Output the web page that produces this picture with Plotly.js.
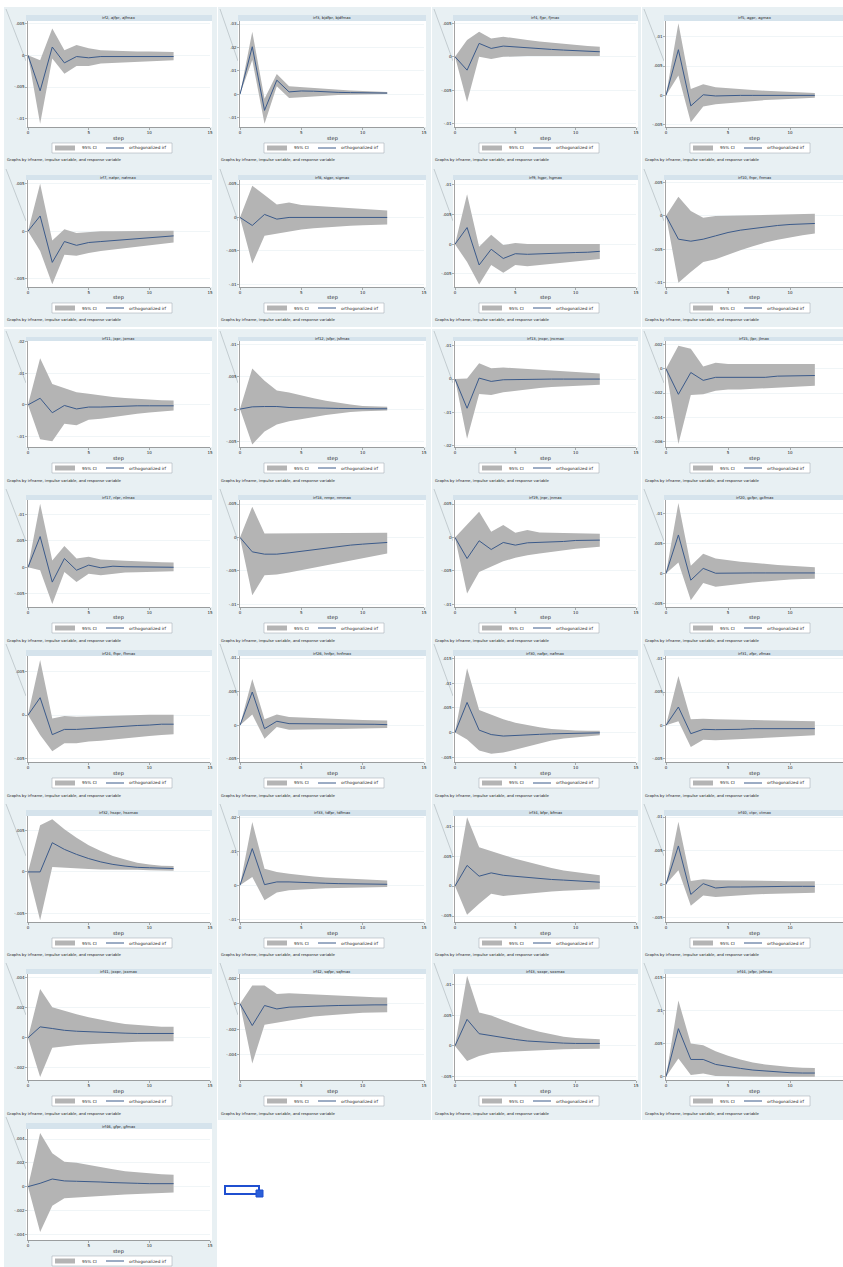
<!DOCTYPE html>
<html><head><meta charset="utf-8">
<script src="https://cdn.plot.ly/plotly-3.0.1.min.js"></script>
<style>html,body{margin:0;padding:0;background:#fff}#chart{width:843px;height:1267px}</style>
</head><body><div id="chart"></div>
<script>
// ---------------- DATA (values in thousandths of the response unit) ----------------
const steps = [0,1,2,3,4,5,6,7,8,9,10,11,12];
const xTicks = [0,5,10,15];
const titles = [
 "irf2, ajfpr, ajfmax","irf3, bjdfpr, bjdfmax","irf4, fjpr, fjmax","irf5, agpr, agmax",
 "irf7, natpr, natmax","irf8, sigpr, sigmax","irf9, hgpr, hgmax","irf10, fnpr, fnmax",
 "irf11, jxpr, jxmax","irf12, jsfpr, jsfmax","irf13, jncpr, jncmax","irf15, jlpr, jlmax",
 "irf17, nlpr, nlmax","irf18, nmpr, nmmax","irf19, jnpr, jnmax","irf20, gcfpr, gcfmax",
 "irf24, fhpr, fhmax","irf26, hnfpr, hnfmax","irf30, nafpr, nafmax","irf31, zfpr, zfmax",
 "irf32, hsxpr, hsxmax","irf33, tdfpr, tdfmax","irf34, bfpr, bfmax","irf40, ctpr, ctmax",
 "irf41, jxxpr, jxxmax","irf42, sqfpr, sqfmax","irf43, sxxpr, sxxmax","irf44, jxfpr, jxfmax",
 "irf46, gfpr, gfmax"
];
const irfVals = [
 [0,-5.6,1.3,-1.2,-0.2,-0.4,-0.2,-0.2,-0.2,-0.2,-0.2,-0.2,-0.2],
 [0,20.3,-6.9,6.0,1.0,1.4,1.3,0.9,0.8,0.7,0.6,0.6,0.5],
 [0,-2.0,2.0,1.25,1.6,1.45,1.35,1.25,1.1,1.0,0.9,0.85,0.75],
 [0,7.8,-1.8,0.1,-0.1,0,0,0,0,0,0,0,0],
 [0,1.6,-3.3,-1.1,-1.5,-1.2,-1.1,-1.0,-0.9,-0.85,-0.7,-0.6,-0.5],
 [0,-1.2,0.45,-0.25,0,0,0,0,0,0,0,0,0],
 [0,2.8,-3.5,-0.85,-2.4,-1.6,-1.7,-1.6,-1.55,-1.5,-1.4,-1.35,-1.2],
 [0,-3.5,-3.8,-3.5,-3.0,-2.5,-2.15,-1.9,-1.65,-1.45,-1.3,-1.2,-1.15],
 [0,2.1,-2.5,-0.2,-1.3,-0.7,-0.7,-0.5,-0.4,-0.3,-0.3,-0.3,-0.3],
 [0,0.35,0.4,0.4,0.25,0.25,0.25,0.15,0.1,0.05,0.05,0.05,0.05],
 [0,-8.8,0.3,-0.7,-0.2,-0.1,-0.1,-0.1,0,0,0,0,0],
 [0,-2.1,-0.3,-0.95,-0.7,-0.7,-0.7,-0.7,-0.7,-0.6,-0.6,-0.6,-0.55],
 [0,5.8,-2.8,1.65,-0.55,0.4,-0.1,0.2,0.1,0.05,0.05,0.05,0],
 [0,-2.15,-2.5,-2.5,-2.3,-2.05,-1.8,-1.55,-1.35,-1.15,-1.0,-0.9,-0.75],
 [0,-3.15,-0.5,-1.8,-0.75,-1.15,-0.8,-0.75,-0.65,-0.6,-0.45,-0.4,-0.4],
 [0,6.4,-1.1,0.85,0.05,0.1,0.1,0.1,0.1,0.1,0.1,0.1,0.1],
 [0,2.0,-2.25,-1.65,-1.65,-1.55,-1.45,-1.4,-1.3,-1.2,-1.15,-1.05,-1.05],
 [0,4.95,-0.5,0.6,0.25,0.25,0.25,0.2,0.2,0.2,0.15,0.15,0.1],
 [0,6.1,0.5,-0.4,-0.7,-0.55,-0.4,-0.35,-0.25,-0.2,-0.15,-0.15,-0.05],
 [0,2.75,-1.25,-0.6,-0.65,-0.65,-0.6,-0.5,-0.5,-0.5,-0.5,-0.5,-0.5],
 [0,0,3.5,2.7,2.1,1.6,1.2,0.9,0.7,0.55,0.5,0.45,0.4],
 [0,10.8,0.2,1.0,1.0,0.8,0.7,0.6,0.5,0.5,0.4,0.4,0.3],
 [0,3.45,1.65,2.2,1.8,1.6,1.45,1.3,1.1,1.0,0.9,0.8,0.65],
 [0,5.7,-1.5,0.1,-0.55,-0.4,-0.4,-0.35,-0.3,-0.3,-0.3,-0.3,-0.3],
 [0,0.73,0.62,0.5,0.44,0.4,0.35,0.33,0.31,0.29,0.29,0.29,0.29],
 [0,-1.7,-0.13,-0.4,-0.26,-0.21,-0.18,-0.16,-0.13,-0.1,-0.08,-0.08,-0.08],
 [0,4.35,2.0,1.65,1.3,1.05,0.8,0.65,0.55,0.45,0.4,0.4,0.4],
 [0,7.25,2.6,2.6,1.85,1.5,1.25,1.0,0.85,0.7,0.6,0.55,0.55],
 [0,0.28,0.64,0.48,0.45,0.45,0.39,0.34,0.34,0.28,0.25,0.25,0.25]
];
const ciHigh = [
 [0,-0.8,4.2,0.8,1.6,1.1,0.8,0.7,0.7,0.6,0.6,0.5,0.5],
 [0,26.7,-1.9,8.6,3.4,3.0,2.6,2.2,1.9,1.6,1.4,1.2,1.0],
 [0,2.5,3.75,2.75,3.0,2.7,2.5,2.3,2.1,1.9,1.7,1.6,1.5],
 [0,12.3,1.1,1.9,1.4,1.2,1.1,0.9,0.8,0.7,0.6,0.5,0.4],
 [0,5.0,-1.0,0.2,-0.2,-0.1,0,0,0,0.05,0.05,0.05,0.05],
 [0,4.75,3.35,1.95,2.25,1.85,1.75,1.65,1.5,1.35,1.25,1.15,1.05],
 [0,8.4,-0.45,1.6,-0.15,0.2,0.05,0.05,0.05,0.05,0.05,0.05,0.05],
 [0,2.85,0.7,-0.3,-0.05,0,0.1,0.15,0.2,0.25,0.3,0.3,0.3],
 [0,14.8,6.6,5.3,4.0,3.5,2.9,2.5,2.2,1.9,1.7,1.5,1.4],
 [0,6.3,4.4,2.9,2.6,2.1,1.7,1.3,0.95,0.7,0.5,0.4,0.35],
 [0,0.2,4.8,3.3,3.5,3.3,3.1,2.9,2.7,2.5,2.3,2.0,1.7],
 [0,1.9,1.65,0.2,0.5,0.4,0.4,0.4,0.4,0.4,0.4,0.4,0.4],
 [0,12.0,1.3,4.0,1.65,2.0,1.45,1.4,1.25,1.15,1.0,0.95,0.9],
 [0,4.6,0.6,0.6,0.65,0.65,0.7,0.7,0.7,0.7,0.7,0.7,0.7],
 [0,1.85,3.85,0.85,1.85,0.7,1.1,0.75,0.7,0.65,0.65,0.6,0.55],
 [0,11.7,1.3,3.3,2.5,2.2,1.95,1.8,1.55,1.4,1.3,1.15,1.05],
 [0,6.35,-0.4,-0.1,-0.2,-0.15,-0.1,-0.1,-0.05,0,0.05,0.05,0.05],
 [0,6.9,0.9,1.6,1.25,1.15,1.05,0.95,0.9,0.85,0.8,0.75,0.7],
 [0,13.0,4.55,3.65,2.7,2.0,1.5,1.1,0.75,0.55,0.4,0.35,0.35],
 [0,7.4,0.9,1.0,0.9,0.85,0.8,0.75,0.7,0.7,0.65,0.65,0.6],
 [0,5.6,6.3,5.1,4.1,3.2,2.5,1.9,1.5,1.1,0.9,0.75,0.7],
 [0,18.6,4.9,3.9,3.4,2.9,2.6,2.3,2.1,1.95,1.75,1.55,1.45],
 [0,11.5,6.5,5.9,5.2,4.55,4.0,3.45,3.0,2.6,2.3,2.0,1.8],
 [0,9.3,0.5,0.75,0.6,0.6,0.55,0.55,0.5,0.5,0.45,0.45,0.45],
 [0,3.25,2.04,1.78,1.56,1.36,1.19,1.05,0.92,0.84,0.77,0.73,0.73],
 [0,1.43,1.43,0.78,0.83,0.78,0.73,0.68,0.62,0.6,0.55,0.52,0.49],
 [0,11.5,5.5,5.0,4.2,3.5,2.85,2.3,1.85,1.5,1.3,1.2,1.1],
 [0,11.5,5.0,4.75,3.85,3.15,2.6,2.15,1.85,1.6,1.45,1.35,1.3],
 [0,4.5,2.8,2.1,2.0,1.8,1.6,1.45,1.3,1.2,1.1,1.05,1.0]
];
const ciLow = [
 [0,-10.8,-0.5,-2.9,-1.7,-1.7,-1.3,-1.2,-1.1,-1.0,-0.9,-0.9,-0.8],
 [0,14.6,-12.6,3.4,-1.6,-1.2,-0.8,-0.5,-0.3,-0.2,-0.1,0,0.1],
 [0,-6.75,0,-0.35,0,0.1,0.1,0.1,0.1,0.1,0.1,0.1,0.1],
 [0,3.4,-4.6,-1.9,-1.5,-1.3,-1.1,-0.9,-0.8,-0.7,-0.6,-0.5,-0.4],
 [0,-2.1,-5.6,-2.5,-2.6,-2.3,-2.1,-1.95,-1.8,-1.65,-1.5,-1.35,-1.2],
 [0,-6.9,-2.75,-2.4,-2.05,-1.8,-1.6,-1.45,-1.35,-1.25,-1.15,-1.1,-1.05],
 [0,-3.0,-6.8,-3.5,-4.8,-3.5,-3.7,-3.5,-3.3,-3.1,-2.9,-2.7,-2.5],
 [0,-10.0,-8.4,-6.9,-6.5,-5.8,-5.15,-4.55,-4.0,-3.6,-3.2,-2.9,-2.65],
 [0,-10.9,-11.6,-6.0,-6.5,-4.7,-4.4,-3.8,-3.3,-2.8,-2.4,-2.1,-1.8],
 [0,-5.5,-3.5,-2.4,-1.9,-1.55,-1.15,-0.9,-0.7,-0.45,-0.35,-0.25,-0.2],
 [0,-18.0,-4.5,-4.8,-4.0,-3.5,-3.1,-2.7,-2.4,-2.2,-2.0,-1.8,-1.7],
 [0,-6.2,-2.15,-2.1,-1.8,-1.7,-1.7,-1.65,-1.6,-1.55,-1.5,-1.45,-1.4],
 [0,-0.55,-6.95,-0.9,-2.8,-1.2,-1.5,-1.2,-1.0,-0.95,-0.9,-0.8,-0.75],
 [0,-8.65,-5.65,-5.55,-5.25,-4.9,-4.5,-4.15,-3.75,-3.4,-3.05,-2.75,-2.4],
 [0,-8.4,-5.15,-4.4,-3.55,-3.05,-2.65,-2.4,-2.15,-1.9,-1.7,-1.55,-1.4],
 [0,1.85,-4.45,-1.55,-2.2,-1.95,-1.65,-1.5,-1.3,-1.1,-1.0,-0.9,-0.85],
 [0,-2.3,-4.15,-3.25,-3.25,-3.05,-2.95,-2.8,-2.7,-2.55,-2.4,-2.3,-2.2],
 [0,1.6,-2.0,-0.25,-0.65,-0.65,-0.6,-0.6,-0.55,-0.5,-0.5,-0.45,-0.4],
 [0,-1.4,-3.6,-4.3,-4.05,-3.45,-2.75,-2.15,-1.6,-1.2,-0.95,-0.7,-0.55],
 [0,0.6,-3.25,-2.15,-2.25,-2.15,-2.0,-1.9,-1.8,-1.7,-1.65,-1.6,-1.5],
 [0,-5.8,0.6,0.5,0.4,0.35,0.3,0.3,0.25,0.25,0.2,0.15,0.15],
 [0,2.45,-4.4,-2.15,-1.45,-1.2,-1.0,-0.9,-0.8,-0.7,-0.6,-0.6,-0.5],
 [0,-4.8,-2.95,-1.3,-1.65,-1.45,-1.2,-1.05,-0.9,-0.8,-0.65,-0.6,-0.55],
 [0,2.1,-3.2,-1.65,-1.9,-1.75,-1.65,-1.5,-1.45,-1.4,-1.35,-1.3,-1.25],
 [0,-2.6,-0.66,-0.55,-0.48,-0.42,-0.37,-0.33,-0.29,-0.26,-0.24,-0.24,-0.22],
 [0,-4.68,-1.64,-1.48,-1.3,-1.12,-0.99,-0.91,-0.83,-0.75,-0.7,-0.68,-0.65],
 [0,-2.5,-1.65,-1.15,-1.0,-0.9,-0.75,-0.65,-0.6,-0.55,-0.5,-0.45,-0.45],
 [0,2.75,0.25,0.5,0.1,0.05,0,0,0,0,0,0,0],
 [0,-3.8,-1.6,-0.98,-0.92,-0.84,-0.78,-0.73,-0.67,-0.62,-0.59,-0.53,-0.5]
];
const yTicks = [
 [5,0,-5,-10],[30,20,10,0,-10],[5,0,-5,-10],[10,5,0,-5],
 [5,0,-5],[5,0,-5,-10],[10,5,0,-5],[5,0,-5,-10],
 [20,10,0,-10],[10,5,0,-5],[10,0,-10,-20],[2,0,-2,-4,-6],
 [10,5,0,-5],[5,0,-5,-10],[5,0,-5,-10],[10,5,0,-5],
 [5,0,-5],[10,5,0,-5],[15,10,5,0,-5],[10,5,0,-5],
 [5,0,-5],[20,10,0,-10],[10,5,0,-5],[10,5,0,-5],
 [4,2,0,-2],[2,0,-2,-4,-6],[10,5,0,-5],[15,10,5,0],
 [4,2,0,-2,-4]
];
const yRanges = [
 [-11.3,5.4],[-14,31.3],[-10.5,5.35],[-5.4,12.7],
 [-5.9,5.4],[-10.4,5.6],[-7.2,10.8],[-10.65,5.35],
 [-13.4,20.3],[-5.9,10.6],[-20.5,11.5],[-6.45,2.3],
 [-7.5,12.7],[-10.4,5.6],[-10.4,5.6],[-5.55,12.2],
 [-5.4,6.8],[-5.45,10.3],[-5.95,15.5],[-5.5,10.4],
 [-6.0,6.7],[-10.8,20.4],[-6.0,11.7],[-5.6,10.15],
 [-2.8,4.24],[-5.97,2.34],[-5.6,11.8],[-0.5,15.5],
 [-4.48,4.84]
];
const legendLabels = ["95% CI","orthogonalized irf"];
const xTitle = "step";
const noteText = "Graphs by irfname, impulse variable, and response variable";

// ---------------- LAYOUT GEOMETRY (pixels) ----------------
const W = 843, H = 1267;
const cols = [ {l:28,r:210,xmax:15,bl:4,br:217}, {l:240,r:424,xmax:15,bl:218,br:431},
               {l:455,r:636,xmax:15,bl:432,br:641}, {l:666,r:843,xmax:14.27,bl:642,br:843} ];
const rows = [ {t:15,p:21,b:127}, {t:175,p:180,b:287}, {t:337,p:341,b:447}, {t:495,p:500,b:607},
               {t:650,p:656,b:762}, {t:810,p:816,b:922}, {t:969,p:974,b:1080}, {t:1123,p:1129,b:1240} ];
const px = x => x / W, py = y => 1 - y / H;
const FONT = "DejaVu Sans, Liberation Sans, sans-serif";
const fmt = v => { if (v === 0) return "0"; let s = String(Number((v/1000).toPrecision(6))); return s.replace(/^(-?)0\./, "$1."); };

const traces = [], shapes = [], annotations = [];
const layout = {
  width: W, height: H, margin: {l:0,r:0,t:0,b:0}, paper_bgcolor: "#ffffff",
  plot_bgcolor: "rgba(0,0,0,0)", showlegend: false, font: {family: FONT, size: 4, color: "#222"}
};

titles.forEach((title, i) => {
  const c = cols[i % 4], r = rows[Math.floor(i / 4)];
  const sfx = i === 0 ? "" : String(i + 1);
  const xa = "x" + sfx, ya = "y" + sfx;
  const bgBottom = Math.min(r.b + 40, H);
  // panel background
  shapes.push({type:"rect", xref:"paper", yref:"paper", layer:"below", x0:px(c.bl), x1:px(c.br), y0:py(r.t - 8), y1:py(bgBottom), fillcolor:"#e8f0f3", line:{width:0}});
  // faint diagonal artefact line
  shapes.push({type:"line", xref:"paper", yref:"paper", layer:"below", x0:px(c.bl + 2), y0:py(r.t - 6), x1:px(c.l - 2), y1:py(r.t + 46), line:{color:"#aab4b9", width:0.6}});
  // white plot region
  shapes.push({type:"rect", xref:"paper", yref:"paper", layer:"below", x0:px(c.l - 2), x1:px(Math.min(c.r + 2, W)), y0:py(r.p), y1:py(r.b), fillcolor:"#ffffff", line:{width:0}});
  // title bar
  shapes.push({type:"rect", xref:"paper", yref:"paper", layer:"below", x0:px(c.l - 2), x1:px(Math.min(c.r + 2, W)), y0:py(r.t), y1:py(r.p), fillcolor:"#d5e3ec", line:{width:0}});
  annotations.push({xref:"paper", yref:"paper", x:px((c.l + Math.min(c.r, W)) / 2), y:py((r.t + r.p) / 2), text:title, showarrow:false, font:{size:3.8, color:"#222"}, xanchor:"center", yanchor:"middle"});

  layout["xaxis" + sfx] = {domain:[px(c.l), px(c.r)], anchor:ya, range:[0, c.xmax], tickvals:xTicks, ticktext:xTicks.map(String),
    showgrid:false, zeroline:false, showline:true, linecolor:"#666", linewidth:0.6, ticks:"outside", ticklen:2, tickwidth:0.5, tickcolor:"#666",
    tickfont:{size:4, color:"#222"}, fixedrange:true};
  layout["yaxis" + sfx] = {domain:[py(r.b), py(r.p)], anchor:xa, range:yRanges[i], tickvals:yTicks[i], ticktext:yTicks[i].map(fmt),
    showgrid:true, gridcolor:"#e6eef1", gridwidth:0.6, zeroline:false, showline:true, linecolor:"#666", linewidth:0.6,
    ticks:"outside", ticklen:2, tickwidth:0.5, tickcolor:"#666", tickfont:{size:4, color:"#222"}, fixedrange:true};

  traces.push({x:steps, y:ciLow[i], xaxis:xa, yaxis:ya, type:"scatter", mode:"lines", line:{width:0, color:"#b2b2b2"}, hoverinfo:"skip"});
  traces.push({x:steps, y:ciHigh[i], xaxis:xa, yaxis:ya, type:"scatter", mode:"lines", fill:"tonexty", fillcolor:"#b4b4b4", line:{width:0, color:"#b2b2b2"}, hoverinfo:"skip"});
  traces.push({x:steps, y:irfVals[i], xaxis:xa, yaxis:ya, type:"scatter", mode:"lines", line:{width:1, color:"#3b5a8a"}});

  // x title
  annotations.push({xref:"paper", yref:"paper", x:px((c.l + Math.min(c.r, W)) / 2), y:py(r.b + 11), text:xTitle, showarrow:false, font:{size:5, color:"#222"}, xanchor:"center", yanchor:"middle"});
  // legend box
  const lb = r.b + 16;
  shapes.push({type:"rect", xref:"paper", yref:"paper", x0:px(c.l + 24), x1:px(c.l + 144), y0:py(lb), y1:py(lb + 10), fillcolor:"#ffffff", line:{color:"#9aa3a8", width:0.5}});
  shapes.push({type:"rect", xref:"paper", yref:"paper", x0:px(c.l + 27), x1:px(c.l + 47), y0:py(lb + 2.5), y1:py(lb + 7.5), fillcolor:"#b4b4b4", line:{width:0}});
  shapes.push({type:"line", xref:"paper", yref:"paper", x0:px(c.l + 78), x1:px(c.l + 96), y0:py(lb + 5), y1:py(lb + 5), line:{color:"#3b5a8a", width:1}});
  annotations.push({xref:"paper", yref:"paper", x:px(c.l + 52), y:py(lb + 5), text:legendLabels[0], showarrow:false, font:{size:4.2, color:"#222"}, xanchor:"left", yanchor:"middle"});
  annotations.push({xref:"paper", yref:"paper", x:px(c.l + 99), y:py(lb + 5), text:legendLabels[1], showarrow:false, font:{size:4.2, color:"#222"}, xanchor:"left", yanchor:"middle"});
  // note
  if (r.b + 33 < H - 2) {
    annotations.push({xref:"paper", yref:"paper", x:px(c.bl + 1), y:py(r.b + 33), text:noteText, showarrow:false, font:{size:3.8, color:"#222"}, xanchor:"left", yanchor:"middle"});
  }
});

// selection-handle artefact next to the last panel
shapes.push({type:"rect", xref:"paper", yref:"paper", x0:px(225), x1:px(259), y0:py(1186), y1:py(1194), fillcolor:"#ffffff", line:{color:"#1f4fd0", width:2}});
shapes.push({type:"rect", xref:"paper", yref:"paper", x0:px(256), x1:px(263), y0:py(1190), y1:py(1197), fillcolor:"#2b5fd8", line:{color:"#1f4fd0", width:1}});

layout.shapes = shapes;
layout.annotations = annotations;
Plotly.newPlot("chart", traces, layout, {displayModeBar:false, staticPlot:true});
</script>
</body></html>
